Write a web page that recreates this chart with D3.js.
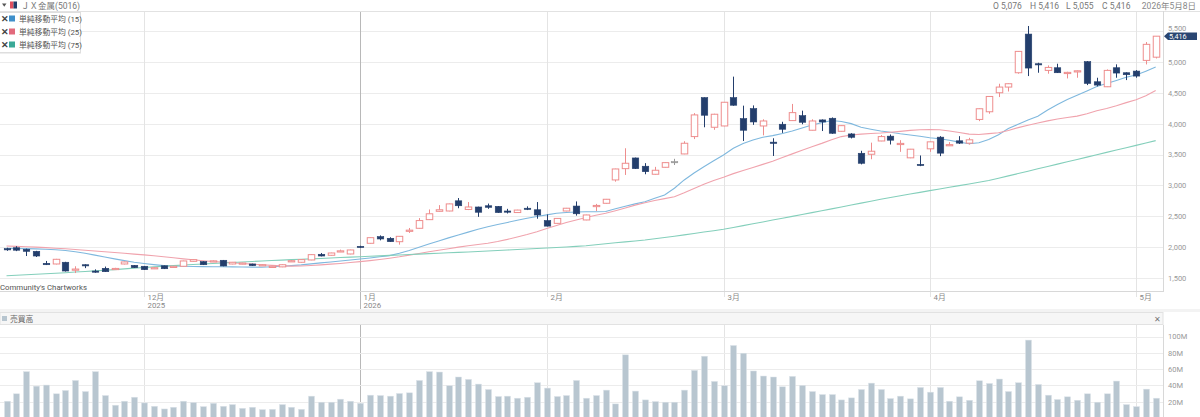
<!DOCTYPE html>
<html><head><meta charset="utf-8">
<script src="https://cdn.jsdelivr.net/npm/d3@7/dist/d3.min.js"></script>
<style>
html,body{margin:0;padding:0;background:#fff;}
svg{display:block;font-family:Roboto,"Noto Sans CJK JP",sans-serif;}
</style></head><body>
<svg id="c" width="1200" height="417"></svg>
<script>
const dates = ["2025-11-10","2025-11-11","2025-11-12","2025-11-13","2025-11-14","2025-11-17","2025-11-18","2025-11-19","2025-11-20","2025-11-21","2025-11-25","2025-11-26","2025-11-27","2025-11-28",
"2025-12-01","2025-12-02","2025-12-03","2025-12-04","2025-12-05","2025-12-08","2025-12-09","2025-12-10","2025-12-11","2025-12-12","2025-12-15","2025-12-16","2025-12-17","2025-12-18","2025-12-19","2025-12-22","2025-12-23","2025-12-24","2025-12-25","2025-12-26","2025-12-29","2025-12-30",
"2026-01-05","2026-01-06","2026-01-07","2026-01-08","2026-01-09","2026-01-13","2026-01-14","2026-01-15","2026-01-16","2026-01-19","2026-01-20","2026-01-21","2026-01-22","2026-01-23","2026-01-26","2026-01-27","2026-01-28","2026-01-29","2026-01-30",
"2026-02-02","2026-02-03","2026-02-04","2026-02-05","2026-02-06","2026-02-09","2026-02-10","2026-02-12","2026-02-13","2026-02-16","2026-02-17","2026-02-18","2026-02-19","2026-02-20","2026-02-24","2026-02-25","2026-02-26","2026-02-27",
"2026-03-02","2026-03-03","2026-03-04","2026-03-05","2026-03-06","2026-03-09","2026-03-10","2026-03-11","2026-03-12","2026-03-13","2026-03-16","2026-03-17","2026-03-18","2026-03-19","2026-03-23","2026-03-24","2026-03-25","2026-03-26","2026-03-27","2026-03-30","2026-03-31",
"2026-04-01","2026-04-02","2026-04-03","2026-04-06","2026-04-07","2026-04-08","2026-04-09","2026-04-10","2026-04-13","2026-04-14","2026-04-15","2026-04-16","2026-04-17","2026-04-20","2026-04-21","2026-04-22","2026-04-23","2026-04-24","2026-04-27","2026-04-28","2026-04-30",
"2026-05-01","2026-05-07","2026-05-08"];

const open = [1975,1990,1965,1932,1738,1727,1755,1630,1715,1613,1657,1648,1727,1705,
1690,1650,1698,1680,1690,1770,1765,1770,1787,1727,1727,1727,1700,1670,1680,1770,1755,1792,1884,1868,1935,1889,
2013,2062,2170,2143,2088,2265,2305,2445,2580,2585,2750,2610,2650,2670,2660,2585,2560,2630,2605,
2430,2385,2585,2665,2440,2665,2710,3088,3271,3444,3310,3180,3293,3385,3509,3790,4421,3941,
3962,4421,4081,4243,3962,3700,3990,4049,4129,3893,4060,4087,3876,3833,3520,3504,3719,3797,3670,3446,3340,
3592,3781,3650,3722,3684,4068,4192,4500,4592,4824,5450,4970,4862,4905,4820,4845,5003,4678,4597,4905,4824,
4851,5024,5076];
const high = [1990,2015,1975,1940,1776,1810,1762,1690,1722,1640,1685,1665,1765,1710,
1695,1672,1702,1695,1780,1802,1770,1785,1792,1760,1748,1732,1720,1695,1720,1790,1800,1882,1905,1910,1960,1958,
2022,2158,2190,2160,2180,2310,2470,2610,2680,2705,2795,2730,2655,2705,2665,2620,2605,2660,2730,
2530,2470,2635,2740,2525,2700,2780,3270,3601,3450,3360,3300,3372,3430,3715,4170,4425,4160,
4350,4761,4291,4295,4070,3763,4030,4319,4210,4070,4068,4100,3970,3845,3560,3692,3815,3824,3732,3590,3484,
3708,3797,3700,3797,3770,4245,4445,4646,4650,5175,5581,4986,4943,4970,4840,4862,5013,4743,4878,4960,4830,
4867,5321,5416];
const low = [1940,1935,1856,1840,1710,1720,1605,1580,1660,1585,1598,1640,1720,1662,
1630,1645,1645,1675,1685,1765,1710,1765,1690,1722,1722,1695,1695,1665,1675,1762,1750,1788,1850,1862,1920,1884,
1990,2058,2110,2085,2040,2230,2300,2440,2575,2580,2630,2600,2490,2620,2555,2545,2555,2600,2460,
2335,2380,2580,2510,2435,2585,2705,3060,3169,3265,3180,3175,3290,3330,3505,3750,3941,3900,
3958,4290,3719,3980,3810,3476,3850,4045,3990,3890,3880,3835,3872,3760,3340,3423,3715,3662,3543,3440,3311,
3543,3473,3640,3670,3660,4040,4160,4430,4520,4808,4770,4824,4808,4820,4732,4743,4624,4603,4592,4743,4705,
4743,4959,5055];
const close = [1955,1950,1932,1856,1715,1803,1613,1645,1700,1597,1602,1655,1760,1667,
1635,1667,1650,1690,1776,1797,1715,1778,1695,1755,1743,1700,1715,1690,1715,1780,1797,1878,1856,1905,1940,1954,
2002,2153,2132,2088,2175,2275,2430,2540,2605,2700,2670,2650,2565,2645,2560,2575,2600,2610,2520,
2340,2465,2630,2540,2521,2675,2775,3266,3358,3271,3222,3245,3368,3385,3682,4141,4136,4152,
4346,4298,3893,4027,4043,3680,3909,4178,4022,4043,4027,3844,3967,3779,3358,3553,3790,3732,3680,3586,3327,
3705,3522,3660,3684,3738,4241,4440,4592,4646,5170,4900,4955,4910,4824,4830,4856,4651,4624,4862,4819,4792,
4770,5284,5416];
// 売買高 (百万株)
const volume = [20.6,29.7,56.9,39.1,40.4,29.7,33.8,46.1,32.5,56.9,27.6,15.7,20.6,25.5,
18.5,14.4,11.1,13.2,20.6,19.0,14.0,18.1,14.4,16.5,11.9,13.2,10.3,10.7,16.5,13.2,10.7,26.8,19.4,19.4,23.1,20.6,
18.1,28.0,27.6,26.8,30.1,30.9,46.1,56.9,56.4,39.6,50.3,47.4,41.6,35.0,26.4,26.8,24.3,25.5,43.3,
36.7,26.4,27.6,46.1,24.3,27.6,34.2,17.3,77.5,33.0,22.2,20.2,19.4,19.4,34.2,58.5,75.8,44.9,
39.6,89.0,79.5,57.7,51.5,50.3,38.3,51.1,40.0,32.5,28.8,28.8,22.2,24.7,35.0,42.8,35.0,23.9,26.8,23.5,37.5,
31.7,37.5,20.6,26.0,21.8,45.7,42.4,47.8,32.5,43.3,95.6,41.2,28.0,22.7,26.0,21.8,29.7,19.4,29.7,45.3,16.5,
14.0,35.4,24.3];
const sma15 = [1981,1978,1975,1972,1965,1958,1945,1925,1900,1870,1840,1810,1782,1754,
1735,1717,1700,1695,1690,1687,1684,1682,1681,1680,1678,1676,1675,1682,1690,1700,1712,1728,1745,1760,1775,1792,
1808,1825,1843,1862,1900,1945,1997,2050,2100,2150,2197,2243,2288,2331,2365,2400,2435,2467,2495,
2522,2548,2560,2570,2574,2574,2576,2620,2661,2700,2736,2790,2843,2953,3088,3200,3303,3400,
3493,3600,3680,3736,3780,3806,3840,3880,3930,3979,4015,4050,4035,4000,3941,3910,3880,3860,3835,3815,3795,
3770,3755,3730,3700,3673,3690,3743,3820,3921,3990,4060,4120,4220,4310,4392,4460,4530,4600,4650,4700,4750,
4786,4850,4916];
const sma25 = [2018,2012,2006,2000,1992,1983,1973,1962,1950,1938,1925,1912,1900,1887,
1874,1860,1845,1828,1810,1795,1780,1768,1757,1746,1735,1724,1714,1705,1697,1692,1695,1703,1713,1724,1736,1750,
1765,1782,1800,1820,1843,1870,1898,1925,1950,1975,2000,2022,2043,2062,2090,2125,2165,2205,2250,
2300,2350,2398,2440,2480,2515,2548,2590,2635,2680,2720,2755,2785,2817,2880,2950,3020,3080,
3131,3190,3240,3290,3340,3390,3450,3510,3570,3627,3680,3740,3790,3815,3830,3840,3848,3860,3875,3890,3900,
3905,3900,3880,3855,3830,3825,3838,3851,3890,3935,3975,4010,4045,4075,4100,4121,4160,4210,4246,4290,4340,
4386,4450,4538];
const sma75 = [1537,1545,1553,1561,1570,1578,1586,1596,1606,1616,1626,1636,1648,1660,
1670,1680,1690,1700,1710,1718,1727,1735,1743,1751,1759,1767,1775,1783,1790,1797,1803,1810,1817,1824,1831,1838,
1845,1852,1859,1866,1873,1880,1887,1894,1901,1908,1915,1922,1929,1937,1945,1953,1961,1969,1977,
1985,1993,2002,2012,2023,2038,2054,2070,2085,2100,2115,2135,2155,2175,2198,2221,2244,2266,
2289,2318,2348,2378,2408,2438,2467,2498,2528,2559,2590,2620,2651,2682,2713,2744,2775,2803,2831,2859,2887,
2915,2942,2969,2996,3023,3050,3078,3116,3154,3192,3230,3268,3306,3344,3382,3420,3458,3496,3534,3572,3610,
3648,3686,3725];
const priceTicks = [1500,2000,2500,3000,3500,4000,4500,5000,5500];
const volTicks = [20,40,60,80,100];
const monthTicks = [
  {date:"2025-12-01", m:"12月", y:"2025"},
  {date:"2026-01-05", m:"1月", y:"2026"},
  {date:"2026-02-02", m:"2月", y:""},
  {date:"2026-03-02", m:"3月", y:""},
  {date:"2026-04-01", m:"4月", y:""},
  {date:"2026-05-01", m:"5月", y:""}
];
const legendItems = [
  {name:"単純移動平均 (15)", key:"sma15", sq:"#3f8fca", line:"#7fb8de"},
  {name:"単純移動平均 (25)", key:"sma25", sq:"#e26a7c", line:"#f0a3ad"},
  {name:"単純移動平均 (75)", key:"sma75", sq:"#3aa997", line:"#84cfbb"}
];
const maSeries = {sma15, sma25, sma75};

const svg = d3.select("#c");
const W = 1200, plotR = 1163, mainTop = 11, mainBot = 291, volTop = 325, volBot = 417;
const NAVY = "#233e6c", RED = "#ee8d8d", GRID = "#ececec", TXT = "#888";

const n = dates.length;
const step = 9.822;
const x = d3.scaleBand().domain(dates).range([1.6, 1.6 + n*step]).paddingInner(0).paddingOuter(0);
const cx = d => x(d) + x.bandwidth()/2;
const y = d3.scaleLinear().domain([1500,5500]).range([278,31]);
const yv = d3.scaleLinear().domain([0,100]).range([418,336.5]);

// header
svg.append("line").attr("x1",0).attr("x2",W).attr("y1",mainTop+0.5).attr("y2",mainTop+0.5).attr("stroke","#e2e2e2");
svg.append("path").attr("d","M2,3.5 L6.5,3.5 L4.25,6.8 Z").attr("fill","#555");
svg.append("rect").attr("x",10).attr("y",1.5).attr("width",3.5).attr("height",7).attr("fill","#e05060");
svg.append("rect").attr("x",13.5).attr("y",1.5).attr("width",3.5).attr("height",7).attr("fill",NAVY);
svg.append("text").attr("x",21).attr("y",8.5).attr("font-size",8.5).attr("fill","#777").text("ＪＸ金属(5016)");
const ohlcTxt = [["O "+d3.format(",")(open[n-1]),993],["H "+d3.format(",")(high[n-1]),1030],["L "+d3.format(",")(low[n-1]),1066],["C "+d3.format(",")(close[n-1]),1102]];
ohlcTxt.forEach(t=>svg.append("text").attr("x",t[1]).attr("y",8.5).attr("font-size",8.5).attr("fill","#777").text(t[0]));
svg.append("text").attr("x",1196).attr("y",8.5).attr("font-size",8.5).attr("fill","#888").attr("text-anchor","end").text("2026年5月8日");

// main grid
const g = svg.append("g");
g.selectAll(".hg").data(priceTicks).join("line").attr("x1",0).attr("x2",plotR)
  .attr("y1",d=>Math.round(y(d))+0.5).attr("y2",d=>Math.round(y(d))+0.5).attr("stroke",GRID);
monthTicks.forEach(t=>{
  const xx = Math.round(cx(t.date))+0.5;
  const dark = t.m==="1月";
  g.append("line").attr("x1",xx).attr("x2",xx).attr("y1",mainTop+1).attr("y2",dark?volBot:mainBot+6).attr("stroke",dark?"#b8b8b8":"#e4e4e4");
  if(!dark) g.append("line").attr("x1",xx).attr("x2",xx).attr("y1",volTop).attr("y2",volBot).attr("stroke","#e4e4e4");
  g.append("text").attr("x",xx+3).attr("y",299.5).attr("font-size",7.8).attr("fill",TXT).text(t.m);
  if(t.y) g.append("text").attr("x",xx+3).attr("y",308).attr("font-size",7.8).attr("fill",TXT).text(t.y);
});
// axes frame
svg.append("line").attr("x1",0).attr("x2",plotR).attr("y1",mainBot+0.5).attr("y2",mainBot+0.5).attr("stroke","#d8d8d8");
svg.append("line").attr("x1",plotR+0.5).attr("x2",plotR+0.5).attr("y1",mainTop).attr("y2",mainBot+1).attr("stroke","#d8d8d8");

// price axis
const ya = svg.append("g").attr("transform",`translate(${plotR},0)`)
  .call(d3.axisRight(y).tickValues(priceTicks).tickSize(0).tickPadding(5).tickFormat(d3.format(",")));
ya.select(".domain").remove();
ya.selectAll("text").attr("font-size",7.5).attr("fill","#999").attr("font-family","Roboto,sans-serif")
  .attr("dy",d=>d===5500?"-0.1em":"0.32em");

// clip
svg.append("defs").append("clipPath").attr("id","clipMain").append("rect").attr("x",0).attr("y",mainTop+1).attr("width",plotR).attr("height",mainBot-mainTop-1);
const pm = svg.append("g").attr("clip-path","url(#clipMain)");

// moving averages
legendItems.forEach(it=>{
  const line = d3.line().x((d,i)=>cx(dates[i])).y(d=>y(d));
  pm.append("path").datum(maSeries[it.key]).attr("d",line).attr("fill","none").attr("stroke",it.line).attr("stroke-width",1.1);
});

// candles
const cdata = dates.map((d,i)=>({d,o:open[i],h:high[i],l:low[i],c:close[i]}));
const bw = 6.5;
const col = k => k.c>k.o ? RED : (k.c<k.o ? NAVY : "#999");
pm.selectAll(".wick").data(cdata).join("line")
  .attr("x1",k=>Math.round(cx(k.d))+0.5).attr("x2",k=>Math.round(cx(k.d))+0.5)
  .attr("y1",k=>y(k.h)).attr("y2",k=>y(k.l)).attr("stroke",col).attr("stroke-width",1);
pm.selectAll(".body").data(cdata).join("rect")
  .attr("x",k=>Math.round(cx(k.d))+0.5-bw/2).attr("width",bw)
  .attr("y",k=>y(Math.max(k.o,k.c))).attr("height",k=>Math.max(1.2,Math.abs(y(k.o)-y(k.c))))
  .attr("fill",k=>k.c>k.o?"#fff":col(k)).attr("stroke",col).attr("stroke-width",k=>k.c>k.o?1:0.6);

// price tag
const ty = y(close[n-1]);
svg.append("path").attr("d",`M${plotR+1},${ty} L${plotR+5},${ty-3.6} L1197,${ty-3.6} L1197,${ty+3.8} L${plotR+5},${ty+3.8} Z`).attr("fill","#2a4672");
svg.append("text").attr("x",plotR+6).attr("y",ty+2.6).attr("font-size",7.2).attr("fill","#fff").text(d3.format(",")(close[n-1]));

// credit
svg.append("text").attr("x",0).attr("y",290).attr("font-size",7.8).attr("fill","#555").text("Community's Chartworks");

// legend
const lg = svg.append("g");
lg.append("rect").attr("x",-1).attr("y",12.5).attr("width",81.5).attr("height",40).attr("fill","#fff").attr("stroke","#dedede");
lg.append("line").attr("x1",0).attr("x2",81).attr("y1",53.5).attr("y2",53.5).attr("stroke","#eeeeee");
legendItems.forEach((it,i)=>{
  const yy = 18.5 + i*13;
  lg.append("text").attr("x",0.5).attr("y",yy+3.2).attr("font-size",9).attr("font-weight","bold").attr("fill","#444").text("✕");
  lg.append("rect").attr("x",9).attr("y",yy-3).attr("width",6).attr("height",6).attr("fill",it.sq);
  lg.append("text").attr("x",19).attr("y",yy+3).attr("font-size",7.8).attr("fill","#555").text(it.name);
});

// volume panel header
svg.append("rect").attr("x",0).attr("y",309).attr("width",W).attr("height",3).attr("fill","#f3f3f3");
svg.append("rect").attr("x",0).attr("y",312.5).attr("width",plotR).attr("height",12).attr("fill","#f6f6f6").attr("stroke","#e2e2e2");
svg.append("rect").attr("x",2).attr("y",316).attr("width",5).attr("height",5).attr("fill","#b7c5cf");
svg.append("text").attr("x",10).attr("y",322).attr("font-size",7.8).attr("fill","#666").text("売買高");
svg.append("text").attr("x",1157).attr("y",322).attr("font-size",8).attr("fill","#777").attr("text-anchor","middle").text("✕");

// volume grid
svg.selectAll(".vg").data(volTicks).join("line").attr("x1",0).attr("x2",plotR)
  .attr("y1",d=>Math.round(yv(d))+0.5).attr("y2",d=>Math.round(yv(d))+0.5).attr("stroke",GRID);
svg.append("line").attr("x1",plotR+0.5).attr("x2",plotR+0.5).attr("y1",volTop).attr("y2",volBot).attr("stroke","#d8d8d8");
const va = svg.append("g").attr("transform",`translate(${plotR},0)`)
  .call(d3.axisRight(yv).tickValues(volTicks).tickSize(0).tickPadding(5).tickFormat(d=>d+"M"));
va.select(".domain").remove();
va.selectAll("text").attr("font-size",7.5).attr("fill","#999").attr("font-family","Roboto,sans-serif");

// volume bars
svg.append("g").selectAll("rect").data(dates).join("rect")
  .attr("x",d=>Math.round(cx(d))+0.5-3).attr("width",6)
  .attr("y",(d,i)=>yv(volume[i])).attr("height",(d,i)=>yv(0)-yv(volume[i]))
  .attr("fill","#b8c6d0").attr("stroke","#dde4ea").attr("stroke-width",0.5);
</script>
</body></html>
